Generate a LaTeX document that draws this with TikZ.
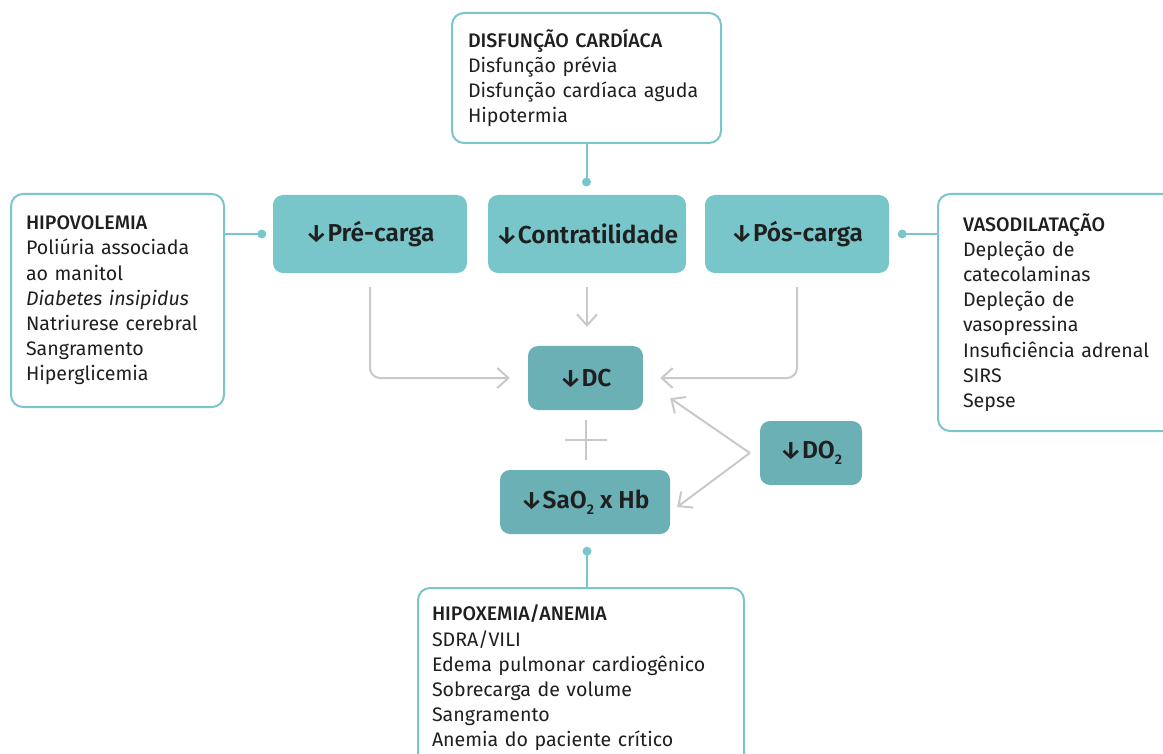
\documentclass[tikz,border=0pt]{standalone}
\usepackage{fontspec}
\setmainfont{Fira Sans}
\newfontfamily\medfont{Fira Sans Medium}
\newfontfamily\semifont{Fira Sans SemiBold}
\usetikzlibrary{arrows.meta}
\definecolor{tealline}{HTML}{7AC7CB}
\definecolor{teallight}{HTML}{78C6C9}
\definecolor{tealdark}{HTML}{6AB0B5}
\definecolor{grayline}{HTML}{C9C9C9}
\definecolor{ink}{HTML}{1F1F1F}
\newcommand{\bodyfont}{\fontsize{19.6}{25.2}\selectfont}
\newcommand{\labfont}{\fontsize{24.5}{28}\selectfont\semifont}
\newcommand{\subtwo}{\raisebox{-0.45ex}{\fontsize{14}{14}\selectfont 2}}
\begin{document}
\begin{tikzpicture}[x=1pt,y=-1pt,
  cause/.style={draw=tealline, line width=2pt, rounded corners=12pt, fill=white,
    align=left, inner ysep=0pt, font=\bodyfont, text=ink},
  factor/.style={fill=teallight, rounded corners=10pt, minimum height=78pt,
    inner sep=0pt, font=\labfont, text=ink},
  result/.style={fill=tealdark, rounded corners=10pt, minimum height=64pt,
    inner sep=0pt, font=\labfont, text=ink},
  link/.style={draw=tealline, line width=2pt},
  dotmark/.style={circle, fill=tealline, inner sep=0pt, minimum size=9pt},
  flow/.style={draw=grayline, line width=2pt, rounded corners=10pt,
    -{Straight Barb[length=11pt,width=20pt,line width=2pt]}},
  plain/.style={draw=grayline, line width=2pt}
]
\useasboundingbox (0,0) rectangle (1163,754);

% factor boxes
\node[factor, minimum width=194pt] (pre) at (370,234) {↓Pré-carga};
\node[factor, minimum width=198pt] (con) at (587,234) {↓Contratilidade};
\node[factor, minimum width=184pt] (pos) at (797,234) {↓Pós-carga};

% results
\node[result, minimum width=115pt] (dc) at (585.5,378) {↓DC};
\node[result, minimum width=170pt] (sao) at (585,502) {↓SaO\subtwo{} x Hb};
\node[result, minimum width=102pt] (do) at (811,453) {↓DO\subtwo};

% cause boxes
\node[cause, inner xsep=16pt, text width=237pt, minimum height=130pt] (card) at (586.5,78)
 {{\medfont DISFUNÇÃO CARDÍACA}\\Disfunção prévia\\Disfunção cardíaca aguda\\Hipotermia};
\node[cause, inner xsep=15pt, text width=183pt, minimum height=213pt] (hipo) at (117.5,300.5)
 {{\medfont HIPOVOLEMIA}\\Poliúria associada\\ao manitol\\\textit{Diabetes insipidus}\\Natriurese cerebral\\Sangramento\\Hiperglicemia};
\node[cause, inner xsep=25pt, text width=197pt, minimum height=237pt] (vaso) at (1061.5,312.5)
 {{\medfont VASODILATAÇÃO}\\Depleção de\\catecolaminas\\Depleção de\\vasopressina\\Insuficiência adrenal\\SIRS\\Sepse};
\node[cause, inner xsep=14pt, text width=298pt, minimum height=180pt] (hipox) at (581,678)
 {{\medfont HIPOXEMIA/ANEMIA}\\SDRA/VILI\\Edema pulmonar cardiogênico\\Sobrecarga de volume\\Sangramento\\Anemia do paciente crítico};

% teal links with dots
\node[dotmark] (dtop) at ([yshift=-38pt]card.south) {};
\draw[link] (card.south) -- (dtop.center);
\node[dotmark] (dleft) at ([xshift=-11pt]pre.west) {};
\draw[link] (dleft.center) -- (dleft.center -| hipo.east);
\node[dotmark] (dright) at ([xshift=13pt]pos.east) {};
\draw[link] (dright.center) -- (dright.center -| vaso.west);
\node[dotmark] (dbot) at ([xshift=2pt,yshift=-17pt]sao.south) {};
\draw[link] (dbot.center) -- (dbot.center |- hipox.north);

% gray flows
\draw[flow] ([yshift=-14pt]pre.south) |- ([xshift=-18pt]dc.west);
\draw[flow] ([yshift=-14pt]con.south) -- ([yshift=19pt]dc.north -| con.south);
\draw[flow] ([yshift=-14pt]pos.south) |- ([xshift=17pt]dc.east);
\coordinate (split) at ([xshift=-10pt]do.west);
\draw[flow] (split) -- ([xshift=27pt,yshift=12pt]dc.south east);
\draw[flow] (split) -- ([xshift=7pt,yshift=-5pt]sao.east);

% plus sign
\coordinate (plus) at (586,440);
\draw[plain] ([xshift=-21pt]plus) -- ([xshift=21pt]plus);
\draw[plain] ([yshift=-20pt]plus) -- ([yshift=20pt]plus);
\end{tikzpicture}
\end{document}
